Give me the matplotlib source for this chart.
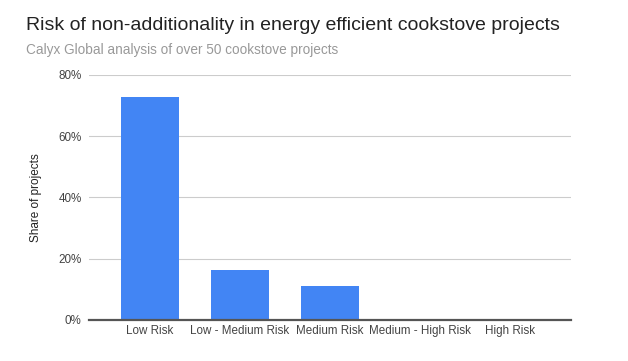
import matplotlib
matplotlib.use("Agg")
import matplotlib.pyplot as plt
from matplotlib.ticker import PercentFormatter

plt.rcParams['font.family'] = ['Liberation Sans', 'DejaVu Sans']

categories = ["Low Risk", "Low - Medium Risk", "Medium Risk", "Medium - High Risk", "High Risk"]
share = [72.7, 16.4, 10.9, 0, 0]
y_ticks = [0, 20, 40, 60, 80]

fig = plt.figure(figsize=(6.28, 3.61), dpi=100)
ax = fig.add_axes([0.141, 0.114, 0.769, 0.679])

x = list(range(len(categories)))
ax.bar(x, share, width=0.645, color="#4285F4", zorder=3)

ax.set_xlim(-0.683, len(categories) - 1 + 0.683)
ax.set_ylim(0, 80)
ax.set_yticks(y_ticks)
ax.yaxis.set_major_formatter(PercentFormatter(decimals=0))
ax.set_xticks(x)
ax.set_xticklabels(categories)
ax.tick_params(axis="both", length=0, labelsize=8.4, labelcolor="#444444")
ax.tick_params(axis="x", pad=4)
ax.tick_params(axis="y", pad=5)
ax.grid(axis="y", color="#cccccc", linewidth=0.8, zorder=0)

for side in ["top", "right", "left"]:
    ax.spines[side].set_visible(False)
ax.spines["bottom"].set_color("#555555")
ax.spines["bottom"].set_linewidth(1.6)
ax.spines["bottom"].set_zorder(4)

ax.set_ylabel("Share of projects", fontsize=8.5, color="#222222", labelpad=12)

fig.text(0.041, 0.928, "Risk of non-additionality in energy efficient cookstove projects",
         fontsize=14, color="#222222", va="center", ha="left")
fig.text(0.041, 0.862, "Calyx Global analysis of over 50 cookstove projects",
         fontsize=9.8, color="#999999", va="center", ha="left")

fig.savefig("out.png", dpi=100)
